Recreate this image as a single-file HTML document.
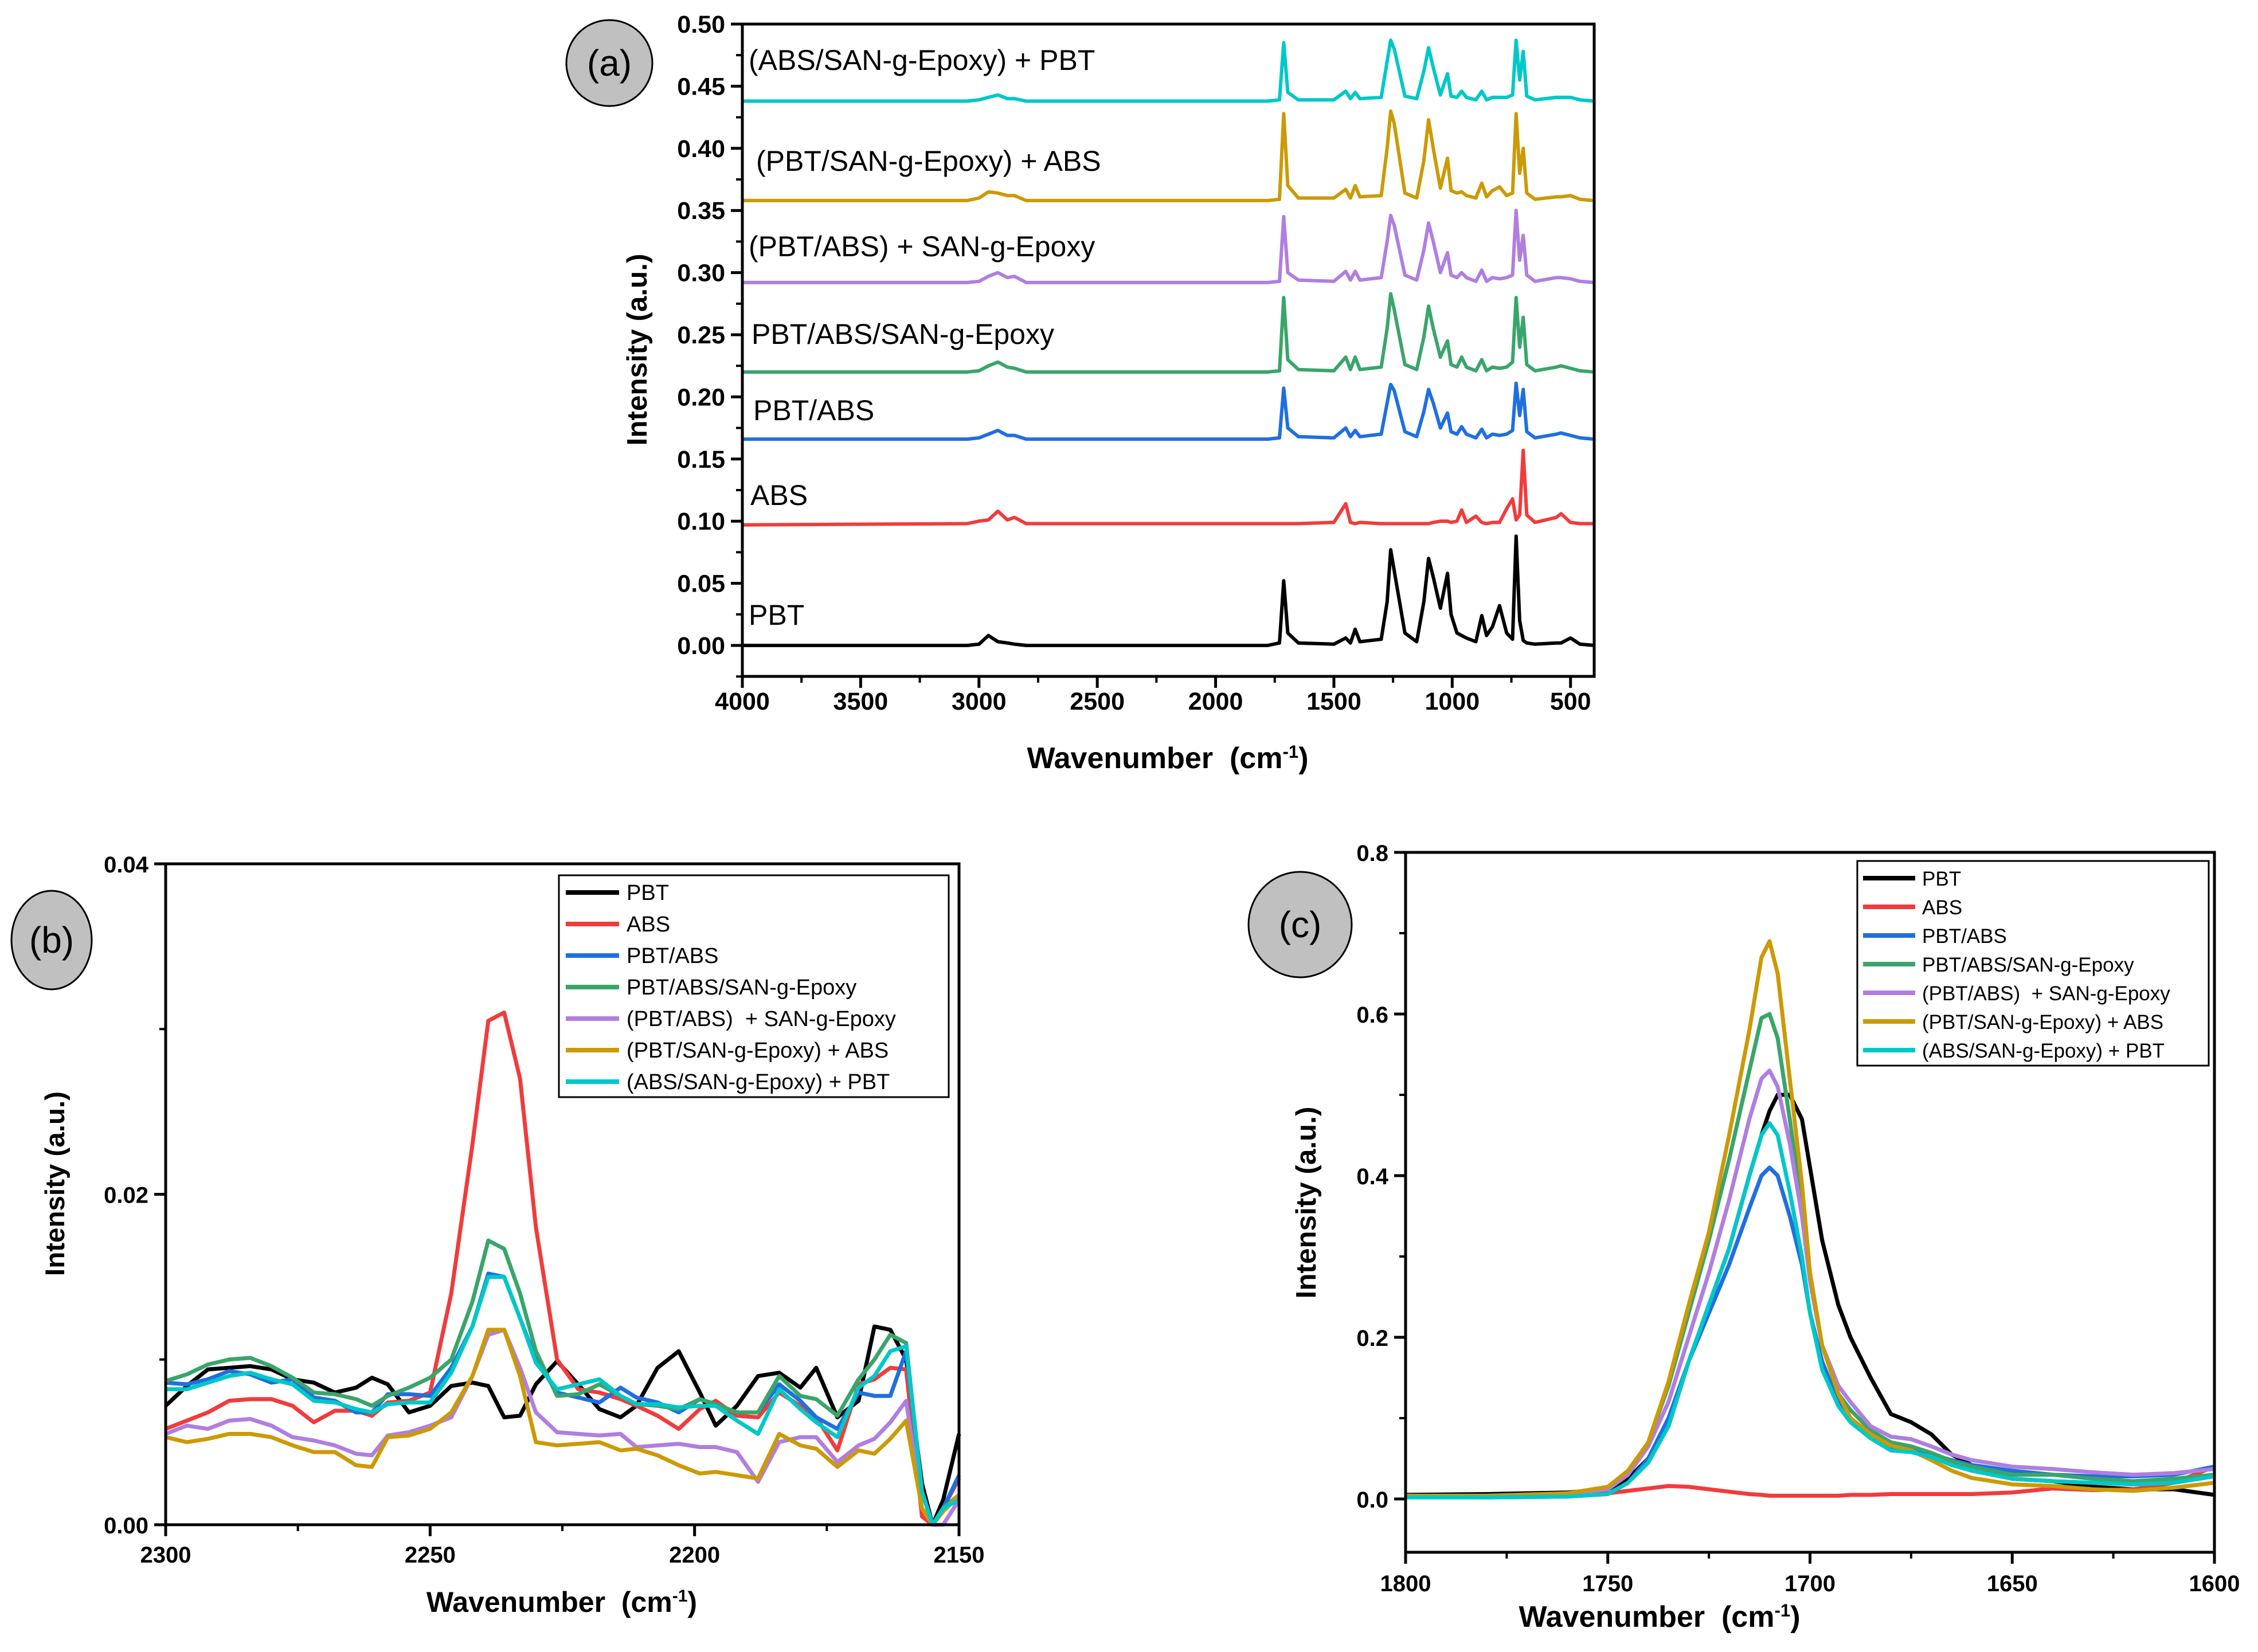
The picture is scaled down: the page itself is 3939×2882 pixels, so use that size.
<!DOCTYPE html>
<html><head><meta charset="utf-8"><style>
html,body{margin:0;padding:0;background:#fff}
svg{display:block}
text{font-family:"Liberation Sans",Arial,sans-serif}
</style></head><body>
<svg id="fig" xmlns="http://www.w3.org/2000/svg" width="3939" height="2882" viewBox="0 0 3939 2882"></svg>
<script>
// ---------- panel (a) data ----------
const waveA=[4000,3050,3000,2960,2920,2880,2850,2800,1780,1730,1712,1695,1650,1500,1450,1430,1410,1390,1300,1275,1260,1245,1200,1150,1120,1100,1080,1050,1020,1005,980,960,940,900,875,855,830,800,770,745,730,715,700,685,650,560,540,500,460,400];
const aPBT=[0,0,.001,.008,.003,.002,.001,0,0,.002,.052,.01,.002,.001,.006,.002,.013,.003,.005,.035,.077,.06,.01,.003,.035,.070,.055,.03,.058,.025,.01,.008,.006,.003,.024,.008,.015,.032,.01,.005,.088,.02,.004,.002,.001,.002,.002,.006,.001,0];
const aABS=[.097,.098,.100,.101,.108,.101,.103,.098,.098,.098,.098,.098,.098,.099,.114,.099,.098,.099,.098,.098,.098,.098,.098,.098,.098,.098,.099,.100,.100,.099,.100,.109,.099,.104,.099,.098,.099,.099,.110,.118,.101,.105,.157,.105,.099,.103,.106,.099,.098,.098];
const aBlend1=[.166,.166,.167,.170,.173,.169,.169,.166,.166,.167,.207,.175,.168,.167,.175,.168,.173,.168,.170,.195,.210,.205,.172,.168,.188,.206,.195,.175,.187,.172,.170,.176,.170,.167,.174,.167,.170,.169,.170,.173,.211,.185,.206,.172,.167,.170,.171,.169,.167,.166];
const aBlend2=[.220,.220,.221,.225,.228,.224,.223,.220,.220,.221,.280,.230,.222,.221,.232,.222,.232,.222,.224,.255,.283,.270,.226,.222,.248,.273,.255,.232,.245,.226,.224,.232,.224,.221,.230,.221,.224,.223,.224,.228,.280,.240,.264,.226,.221,.224,.225,.223,.221,.220];
const aBlend3=[.292,.292,.293,.297,.300,.296,.297,.292,.292,.293,.345,.300,.294,.293,.301,.294,.301,.294,.296,.325,.346,.338,.298,.294,.318,.340,.325,.300,.316,.298,.296,.300,.296,.293,.302,.293,.296,.295,.296,.298,.350,.310,.330,.298,.293,.296,.296,.295,.293,.292];
const aBlend4=[.358,.358,.360,.365,.364,.362,.362,.358,.358,.359,.428,.370,.360,.360,.367,.360,.370,.361,.362,.400,.430,.420,.364,.360,.390,.423,.400,.368,.392,.366,.364,.365,.362,.360,.372,.361,.366,.369,.362,.364,.428,.380,.400,.364,.359,.361,.361,.362,.359,.358];
const aBlend5=[.438,.438,.439,.441,.443,.440,.440,.438,.438,.439,.485,.445,.439,.439,.446,.440,.445,.440,.441,.470,.487,.480,.442,.440,.462,.481,.465,.443,.460,.442,.441,.446,.441,.439,.446,.439,.441,.441,.441,.443,.487,.455,.478,.442,.439,.441,.441,.441,.439,.438];
const yTicksA=["0.00","0.05","0.10","0.15","0.20","0.25","0.30","0.35","0.40","0.45","0.50"];
const xTicksA=["4000","3500","3000","2500","2000","1500","1000","500"];

// ---------- panel (b) data (x 0.001) ----------
const waveB=[2300,2296,2292,2288,2284,2280,2276,2272,2268,2264,2261,2258,2254,2250,2246,2242,2239,2236,2233,2230,2226,2222,2218,2214,2211,2207,2203,2199,2196,2192,2188,2184,2180,2177,2173,2169,2166,2163,2160,2157,2155,2153,2150];
const bPBT=[7.2,8.4,9.4,9.5,9.6,9.4,8.8,8.6,8.0,8.3,8.9,8.5,6.8,7.2,8.4,8.6,8.4,6.5,6.6,8.5,9.9,8.5,7.0,6.5,7.2,9.5,10.5,8.0,6.0,7.2,9.0,9.2,8.3,9.5,6.5,7.5,12.0,11.8,10.0,2.5,0,1.5,5.5];
const bABS=[5.8,6.3,6.8,7.5,7.6,7.6,7.2,6.2,6.9,6.9,6.6,7.4,7.5,8.0,14.0,23.0,30.5,31.0,27.0,18.0,10.0,8.2,8.0,7.6,7.2,6.6,5.8,7.0,7.5,6.6,6.5,8.0,7.2,6.5,4.5,8.5,8.8,9.5,9.4,0.5,0,1.0,2.8];
const bBlend1=[8.6,8.5,8.8,9.3,9.1,8.6,8.8,7.7,7.5,6.8,6.8,7.9,7.9,7.8,9.5,12.0,15.2,15.0,12.5,10.0,8.0,7.7,7.4,8.3,7.7,7.4,6.8,7.6,7.3,6.8,6.8,8.5,7.5,6.5,5.8,8.0,7.8,7.8,10.5,2,0,1.0,3.0];
const bBlend2=[8.7,9.1,9.7,10.0,10.1,9.6,8.9,8.0,7.9,7.6,7.2,7.8,8.3,8.9,10.0,13.5,17.2,16.7,14.0,10.5,7.8,7.9,8.5,7.8,7.3,7.2,7.0,7.6,7.3,6.8,6.8,9.0,7.8,7.6,6.6,8.8,10.0,11.5,11.0,2,0,1.0,1.8];
const bBlend3=[5.5,6.0,5.8,6.3,6.4,6.0,5.3,5.1,4.8,4.3,4.2,5.4,5.6,6.0,6.5,9.0,11.5,11.8,9.5,6.8,5.6,5.5,5.4,5.5,4.7,4.8,4.9,4.7,4.7,4.4,2.6,5.0,5.3,5.3,3.8,4.8,5.2,6.2,7.5,1,0,0,1.5];
const bBlend4=[5.3,5.0,5.2,5.5,5.5,5.3,4.8,4.4,4.4,3.6,3.5,5.3,5.4,5.8,6.8,9.0,11.8,11.8,9.0,5.0,4.8,4.9,5.0,4.5,4.6,4.2,3.6,3.1,3.2,3.0,2.8,5.5,4.8,4.6,3.5,4.5,4.3,5.2,6.3,1,0,0.8,1.8];
const bBlend5=[8.2,8.2,8.6,9.0,9.2,8.8,8.5,7.5,7.4,7.0,6.8,7.3,7.4,7.4,9.2,12.0,15.0,15.0,12.5,9.8,8.2,8.5,8.8,7.8,7.3,7.3,7.1,7.2,7.2,6.3,5.5,8.2,7.0,6.2,5.3,8.3,9.0,10.5,10.8,2,0,1.0,1.5];
const yTicksB=["0.00","0.02","0.04"];
const xTicksB=["2300","2250","2200","2150"];

// ---------- panel (c) data ----------
const waveC=[1800,1780,1760,1750,1745,1740,1735,1730,1725,1720,1715,1712,1710,1708,1705,1702,1700,1697,1693,1690,1685,1680,1675,1670,1665,1660,1650,1640,1630,1620,1610,1600];
const cPBT=[.005,.006,.008,.012,.025,.05,.09,.17,.24,.31,.40,.45,.48,.50,.50,.47,.41,.32,.24,.20,.15,.105,.095,.08,.055,.042,.025,.022,.015,.012,.012,.005];
const cABS=[.003,.004,.005,.007,.010,.013,.016,.015,.012,.009,.006,.005,.004,.004,.004,.004,.004,.004,.004,.005,.005,.006,.006,.006,.006,.006,.008,.013,.011,.012,.02,.04];
const cBlend1=[.003,.002,.003,.006,.02,.05,.1,.17,.23,.29,.36,.40,.41,.40,.35,.29,.23,.17,.12,.10,.08,.065,.06,.055,.048,.042,.035,.03,.028,.028,.03,.04];
const cBlend2=[.003,.003,.006,.012,.03,.07,.14,.23,.32,.42,.53,.595,.60,.57,.47,.36,.27,.19,.13,.11,.085,.07,.065,.057,.047,.04,.03,.03,.025,.022,.025,.03];
const cBlend3=[.003,.003,.006,.012,.03,.065,.12,.2,.28,.37,.47,.52,.53,.51,.44,.35,.27,.19,.14,.12,.09,.077,.074,.065,.055,.048,.04,.037,.033,.03,.032,.037];
const cBlend4=[.004,.004,.007,.015,.035,.07,.145,.24,.33,.45,.58,.67,.69,.65,.52,.39,.28,.19,.13,.10,.08,.066,.06,.048,.035,.026,.018,.016,.012,.01,.014,.02];
const cBlend5=[.002,.002,.003,.006,.02,.045,.09,.17,.24,.31,.40,.45,.465,.45,.38,.30,.23,.16,.115,.095,.075,.06,.058,.052,.042,.035,.025,.022,.02,.018,.02,.028];
const yTicksC=["0.0","0.2","0.4","0.6","0.8"];
const xTicksC=["1800","1750","1700","1650","1600"];

const names=["PBT","ABS","PBT/ABS","PBT/ABS/SAN-g-Epoxy","(PBT/ABS) + SAN-g-Epoxy","(PBT/SAN-g-Epoxy) + ABS","(ABS/SAN-g-Epoxy) + PBT"];
const colors=["#000000","#f03c3c","#1f6fe0","#3aa56a","#b07ee0","#cc9a06","#00c8c8"];

const NS="http://www.w3.org/2000/svg";
const svg=document.getElementById('fig');
function mk(tag,attrs,parent,txt){const e=document.createElementNS(NS,tag);for(const k in attrs)e.setAttribute(k,attrs[k]);if(txt!==undefined)e.textContent=txt;(parent||svg).appendChild(e);return e;}

function panel(cfg){
  const g=mk('g',{});
  
  
  const X=v=>cfg.L+(v-cfg.x0)/(cfg.x1-cfg.x0)*(cfg.R-cfg.L);
  const Y=v=>cfg.y0px+(v-0)/(cfg.yTop)*(cfg.T-cfg.y0px);
  cfg.series.forEach((s,i)=>{
    let d='';
    cfg.wave.forEach((w,j)=>{d+=(j?'L':'M')+X(w).toFixed(1)+','+Y(s[j]*cfg.ys).toFixed(1);});
    const p=mk('path',{d:d,fill:'none',stroke:colors[i],'stroke-width':cfg.lw,'stroke-linejoin':'round'},g);
    
    
  });
  const fr=mk('rect',{x:cfg.L,y:cfg.T,width:cfg.R-cfg.L,height:cfg.B-cfg.T,fill:'none',stroke:'#000','stroke-width':5},g);
  
  
  cfg.yTicks.forEach((t,i)=>{
    const v=parseFloat(t), y=Y(v);
    mk('line',{x1:cfg.L-20,x2:cfg.L,y1:y,y2:y,stroke:'#000','stroke-width':5},g);
    const tx=mk('text',{x:cfg.L-30,y:y+15,'text-anchor':'end','font-size':cfg.tf,'font-weight':'bold'},g,t);
    
    
    if(i<cfg.yTicks.length-1){const ym=Y(v+cfg.yStep/2);mk('line',{x1:cfg.L-11,x2:cfg.L,y1:ym,y2:ym,stroke:'#000','stroke-width':4},g);}
  });
  if(cfg.yMinorBelow){const ym=Y(-cfg.yStep/2);mk('line',{x1:cfg.L-11,x2:cfg.L,y1:ym,y2:ym,stroke:'#000','stroke-width':4},g);}
  cfg.xTicks.forEach((t,i)=>{
    const v=parseFloat(t), x=X(v);
    mk('line',{x1:x,x2:x,y1:cfg.B,y2:cfg.B+20,stroke:'#000','stroke-width':5},g);
    const tx=mk('text',{x:x,y:cfg.B+cfg.xlOff,'text-anchor':'middle','font-size':cfg.tf,'font-weight':'bold'},g,t);
    
    
    const vm=v-cfg.xStep/2;
    if((cfg.x0>cfg.x1?vm>=cfg.x1:vm<=cfg.x1)){const xm=X(vm);mk('line',{x1:xm,x2:xm,y1:cfg.B,y2:cfg.B+11,stroke:'#000','stroke-width':4},g);}
  });
  const xt=mk('text',{x:cfg.xtX,y:cfg.xtY,'text-anchor':'middle','font-size':cfg.titleF,'font-weight':'bold'},g);
  xt.innerHTML='Wavenumber&#160;&#160;(cm<tspan dy="-18" font-size="'+(cfg.titleF*0.6)+'">-1</tspan><tspan dy="18">)</tspan>';
  
  
  const yt=mk('text',{x:0,y:0,transform:'translate('+cfg.ytX+','+cfg.ytY+') rotate(-90)','text-anchor':'middle','font-size':cfg.titleF*0.95,'font-weight':'bold'},g,'Intensity (a.u.)');
  
  
  const bg=mk('g',{},g);
  
  
  mk('ellipse',{cx:cfg.cx,cy:cfg.cy,rx:cfg.rx,ry:cfg.ry,fill:'#c0c0c0',stroke:'#000','stroke-width':3},bg);
  mk('text',{x:cfg.cx,y:cfg.cy+22,'text-anchor':'middle','font-size':64},bg,cfg.letter);
  return {g,X,Y};
}

const A=panel({id:'panel-a',L:1295,R:2781,T:42,B:1180,y0px:1126,yTop:0.5,x0:4000,x1:400,wave:waveA,series:[aPBT,aABS,aBlend1,aBlend2,aBlend3,aBlend4,aBlend5],ys:1,lw:6,yTicks:yTicksA,yStep:0.05,yMinorBelow:true,xTicks:xTicksA,xStep:500,tf:43,xlOff:58,titleF:52,xtX:2037,xtY:1340,ytX:1128,ytY:610,cx:1063,cy:110,rx:75,ry:75,letter:'(a)'});
const aLabels=[["(ABS/SAN-g-Epoxy) + PBT",1306,122],["(PBT/SAN-g-Epoxy) + ABS",1319,298],["(PBT/ABS) + SAN-g-Epoxy",1306,447],["PBT/ABS/SAN-g-Epoxy",1311,600],["PBT/ABS",1314,733],["ABS",1309,881],["PBT",1306,1090]];
aLabels.forEach(l=>{const t=mk('text',{x:l[1],y:l[2],'font-size':50},A.g,l[0]);
  
  });

const Bp=panel({id:'panel-b',L:289,R:1673,T:1507,B:2660,y0px:2660,yTop:0.04,x0:2300,x1:2150,wave:waveB,series:[bPBT,bABS,bBlend1,bBlend2,bBlend3,bBlend4,bBlend5],ys:0.001,lw:7,yTicks:yTicksB,yStep:0.02,xTicks:xTicksB,xStep:50,tf:40,xlOff:66,titleF:50,xtX:980,xtY:2812,ytX:112,ytY:2065,cx:90,cy:1640,rx:70,ry:86,letter:'(b)'});
const Cp=panel({id:'panel-c',L:2452,R:3863,T:1487,B:2708,y0px:2615,yTop:0.8,x0:1800,x1:1600,wave:waveC,series:[cPBT,cABS,cBlend1,cBlend2,cBlend3,cBlend4,cBlend5],ys:1,lw:7,yTicks:yTicksC,yStep:0.2,yMinorBelow:false,xTicks:xTicksC,xStep:50,tf:40,xlOff:68,titleF:52,xtX:2895,xtY:2838,ytX:2295,ytY:2098,cx:2268,cy:1613,rx:90,ry:92,letter:'(c)'});

function legend(parent,x,y,w,h,lx1,lx2,tx,step,fs,first){
  const lg=mk('g',{},parent);
  
  
  mk('rect',{x:x,y:y,width:w,height:h,fill:'#fff',stroke:'#000','stroke-width':3},lg);
  names.forEach((n,i)=>{
    const e=mk('g',{},lg);
    
    
    const yy=first+i*step;
    mk('line',{x1:lx1,x2:lx2,y1:yy,y2:yy,stroke:colors[i],'stroke-width':8},e);
    mk('text',{x:tx,y:yy+13,'font-size':fs},e,n.replace('(PBT/ABS) +','(PBT/ABS)\u00a0 +'));
  });
}
legend(Bp.g,975,1527,680,387,987,1080,1093,55,38,1557);
legend(Cp.g,3240,1502,613,357,3250,3341,3353,50,35,1532);
</script>
</body></html>
